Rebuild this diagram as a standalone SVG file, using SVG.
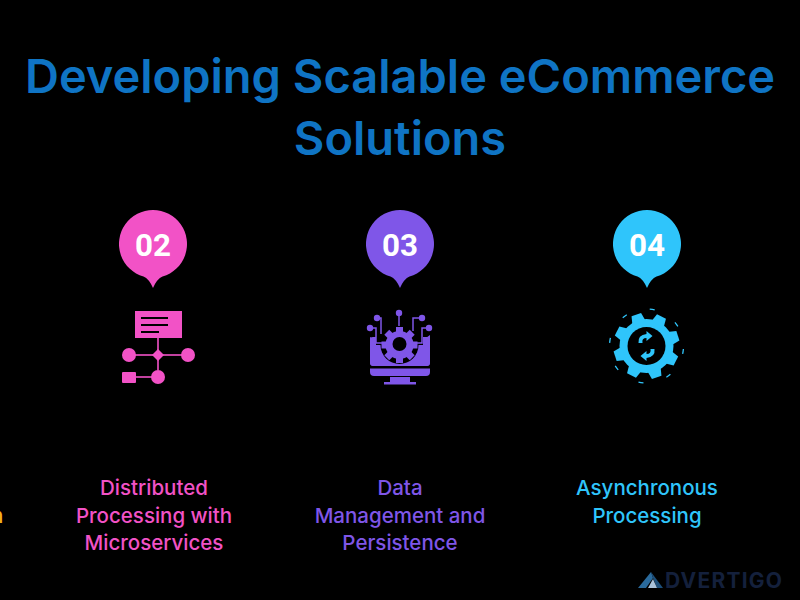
<svg xmlns="http://www.w3.org/2000/svg" xmlns:xlink="http://www.w3.org/1999/xlink" width="800" height="600" viewBox="0 0 800 600">
<style>
.t{font-family:"Inter","Open Sans",sans-serif;font-weight:600;font-size:47px;fill:#0f74c4;text-anchor:middle}
.l{font-family:"Inter","Open Sans",sans-serif;font-weight:500;font-size:20.5px;text-anchor:middle}
.n{font-family:"Roboto","Liberation Sans",sans-serif;font-weight:700;font-size:32px;fill:#fff;text-anchor:middle}
.pink{fill:#f252c6}.pur{fill:#7f56e8}.cy{fill:#2fc5fb}
</style>
<defs>
<path id="pin" d="M-9.5 32.6A34 34 0 1 1 9.500 32.600Q4 35 0 44Q-4 35-9.5 32.600Z"/>
<polygon id="t3" points="-4,-22 -3,-19 3,-19 4,-22" />
</defs>
<rect width="800" height="600" fill="#000"/>
<text class="t" x="400" y="93">Developing Scalable eCommerce</text>
<text class="t" x="400" y="155">Solutions</text>
<text x="-9" y="523" class="l" style="text-anchor:start" fill="#f5b21a">n</text>
<g id="node-02">
<use href="#pin" x="153" y="244" class="pink"/>
<text class="n" x="153" y="256" textLength="36" lengthAdjust="spacingAndGlyphs">02</text>
<g class="pink">
<rect x="135" y="311" width="47" height="27"/>
<rect x="141" y="317" width="27" height="2" fill="#000"/><rect x="141" y="324" width="27" height="2" fill="#000"/><rect x="141" y="331" width="18" height="2" fill="#000"/>
<rect x="157.200" y="338" width="1.600" height="32"/><rect x="128" y="354.200" width="60" height="1.600"/><rect x="136" y="376.200" width="22" height="1.600"/>
<circle cx="129" cy="355" r="7"/><circle cx="188" cy="355" r="7"/><circle cx="158" cy="377" r="7"/>
<polygon points="158,349 164,355 158,361 152,355"/>
<rect x="122" y="372" width="14" height="11" rx="1"/>
</g>
<text class="l pink" x="154" y="495">Distributed</text>
<text class="l pink" x="154" y="523">Processing with</text>
<text class="l pink" x="154" y="550">Microservices</text>
</g>
<g id="node-03">
<use href="#pin" x="400" y="244" class="pur"/>
<text class="n" x="400" y="256" textLength="36" lengthAdjust="spacingAndGlyphs">03</text>
<g class="pur">
<path d="M370 337L376 340V345H383V364H416V345H423V340L430 335V362Q430 366 426 366H374Q370 366 370 362Z"/>
<path d="M370 368.500H430V372Q430 376 426 376H374Q370 376 370 372Z"/>
<rect x="390" y="377" width="20" height="6"/><rect x="384" y="382" width="32" height="2.500"/>
<rect x="370" y="337" width="60" height="29" rx="3"/>
</g>
<circle cx="399.500" cy="345" r="19" fill="#000"/>
<rect x="376" y="333" width="47" height="12" fill="#000"/>
<g class="pur">
<circle cx="399.500" cy="345" r="14"/>
<g id="gear3"><rect x="396" y="327" width="7" height="6"/><rect x="396" y="327" width="7" height="6" transform="rotate(45 399.500 345)"/><rect x="396" y="327" width="7" height="6" transform="rotate(90 399.500 345)"/><rect x="396" y="327" width="7" height="6" transform="rotate(135 399.500 345)"/><rect x="396" y="327" width="7" height="6" transform="rotate(180 399.500 345)"/><rect x="396" y="327" width="7" height="6" transform="rotate(225 399.500 345)"/><rect x="396" y="327" width="7" height="6" transform="rotate(270 399.500 345)"/><rect x="396" y="327" width="7" height="6" transform="rotate(315 399.500 345)"/></g>
<circle cx="399" cy="313" r="3.200"/><circle cx="377" cy="318" r="3.200"/><circle cx="370" cy="328" r="3.200"/><circle cx="422" cy="318" r="3.200"/><circle cx="429" cy="328" r="3.200"/>
</g>
<circle cx="399.500" cy="344" r="7" fill="#000"/>
<path d="M399 313V326M377 318H381V334M370 328H376V343H382M422 318H413V331M429 328H422V343H417" fill="none" stroke="#7f56e8" stroke-width="1.500"/>
<text class="l pur" x="400" y="495">Data</text>
<text class="l pur" x="400" y="523">Management and</text>
<text class="l pur" x="400" y="550">Persistence</text>
</g>
<g id="node-04">
<use href="#pin" x="647" y="244" class="cy"/>
<text class="n" x="647" y="256" textLength="36" lengthAdjust="spacingAndGlyphs">04</text>
<g class="cy" transform="translate(646.500 346)">
<circle r="27"/>
<g transform="rotate(-18)">
<polygon id="th" points="-7,-24 -5,-33 5,-33 7,-24"/>
<polygon points="-7,-24 -5,-33 5,-33 7,-24" transform="rotate(45)"/>
<polygon points="-7,-24 -5,-33 5,-33 7,-24" transform="rotate(90)"/>
<polygon points="-7,-24 -5,-33 5,-33 7,-24" transform="rotate(135)"/>
<polygon points="-7,-24 -5,-33 5,-33 7,-24" transform="rotate(180)"/>
<polygon points="-7,-24 -5,-33 5,-33 7,-24" transform="rotate(225)"/>
<polygon points="-7,-24 -5,-33 5,-33 7,-24" transform="rotate(270)"/>
<polygon points="-7,-24 -5,-33 5,-33 7,-24" transform="rotate(315)"/>
</g>
<circle r="37" fill="none" stroke="#2fc5fb" stroke-width="1.300" stroke-dasharray="5 24.060" stroke-dashoffset="-3"/>
<circle r="19" fill="#000"/>
<path d="M-8 -3Q-9 -11 0 -12L0 -15L6 -10L0 -5L0 -8Q-5 -8-4 -3ZM8 3Q9 11 0 12L0 15L-6 10L0 5L0 8Q5 8 4 3Z"/>
</g>
<text class="l cy" x="647" y="495">Asynchronous</text>
<text class="l cy" x="647" y="523">Processing</text>
</g>
<g id="logo">
<polygon points="651,572 638,588 646,588 653,578" fill="#2a6a9c"/>
<polygon points="651,572 663,588 657,588 653,578" fill="#1d4f7a"/>
<polygon points="648,588 657,588 653,579" fill="#a9c2da"/>
<text x="665" y="588" font-family="Inter,'Open Sans',sans-serif" font-weight="700" font-size="21" fill="#14203c" textLength="117">DVERTIGO</text>
</g>
</svg>
